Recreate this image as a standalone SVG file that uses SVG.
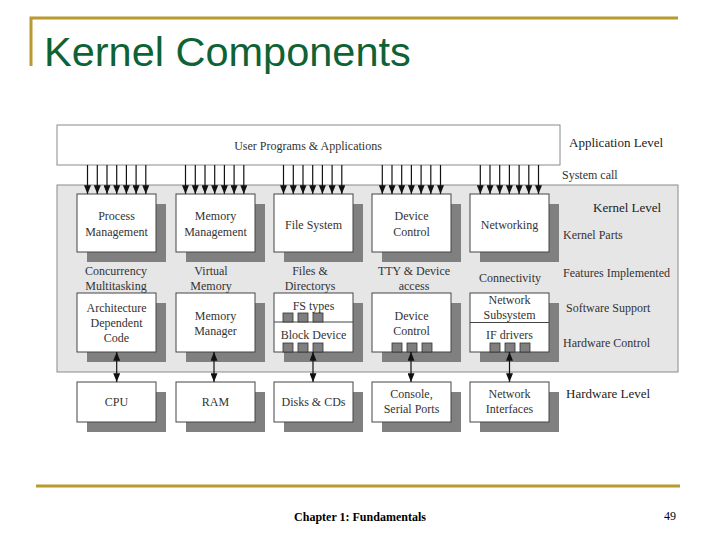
<svg xmlns="http://www.w3.org/2000/svg" width="720" height="540" viewBox="0 0 720 540">
<style>
.gold{stroke:#b89a30;stroke-width:3;fill:none}
.title{font-family:"Liberation Sans",Arial,sans-serif;font-size:41.5px;fill:#0f6236}
.t{font-family:"Liberation Serif","Times New Roman",serif;font-size:12px;fill:#333;text-anchor:middle}
.l{font-family:"Liberation Serif","Times New Roman",serif;font-size:12px;fill:#333}
.l13{font-family:"Liberation Serif","Times New Roman",serif;font-size:13px;fill:#222}
.box{fill:#fff;stroke:#444;stroke-width:1}
.sh{fill:#808080}
.sq{fill:#7f7f7f;stroke:#333;stroke-width:0.8}
.conn line{stroke:#111;stroke-width:1.2}
.foot{font-family:"Liberation Serif","Times New Roman",serif;font-size:12px;fill:#000}
</style>
<defs>
<marker id="ah" viewBox="0 0 10 8" refX="10" refY="4" markerWidth="9" markerHeight="7" markerUnits="userSpaceOnUse" orient="auto">
<path d="M0,0 L10,4 L0,8 z" fill="#111"/>
</marker>
<marker id="as" viewBox="0 0 10 8" refX="0" refY="4" markerWidth="9" markerHeight="7" markerUnits="userSpaceOnUse" orient="auto">
<path d="M10,0 L0,4 L10,8 z" fill="#111"/>
</marker>
</defs>
<rect width="720" height="540" fill="#fff"/>
<g id="title">
<path class="gold" d="M31,66 V18 H678"/>
<text class="title" x="44" y="66">Kernel Components</text>
</g>
<g id="kernel-bg"><rect x="57" y="185" width="621" height="187" fill="#e6e6e6" stroke="#8a8a8a"/></g>
<g id="user-programs">
<rect x="57" y="125" width="503" height="40" fill="#fff" stroke="#8a8a8a"/>
<text class="t" x="308" y="150">User Programs &amp; Applications</text>
</g>
<g id="labels">
<text class="l13" x="569" y="147">Application Level</text>
<text class="l" x="562" y="179">System call</text>
<text class="l13" x="593" y="212">Kernel Level</text>
<text class="l" x="563" y="239">Kernel Parts</text>
<text class="l" x="563" y="277">Features Implemented</text>
<text class="l" x="566" y="312">Software Support</text>
<text class="l" x="563" y="347">Hardware Control</text>
<text class="l13" x="566" y="398">Hardware Level</text>
<text class="t" x="116" y="275">Concurrency</text><text class="t" x="116" y="290">Multitasking</text>
<text class="t" x="211" y="275">Virtual</text><text class="t" x="211" y="290">Memory</text>
<text class="t" x="310" y="275">Files &amp;</text><text class="t" x="310" y="290">Directorys</text>
<text class="t" x="414" y="275">TTY &amp; Device</text><text class="t" x="414" y="290">access</text>
<text class="t" x="510" y="282">Connectivity</text>
</g>
<g id="process-mgmt"><rect class="sh" x="87" y="204" width="79" height="58"/><rect class="box" x="77" y="194" width="79" height="58"/>
<text class="t" x="116.5" y="220">Process</text><text class="t" x="116.5" y="236">Management</text></g>
<g id="memory-mgmt"><rect class="sh" x="186" y="204" width="79" height="58"/><rect class="box" x="176" y="194" width="79" height="58"/>
<text class="t" x="215.5" y="220">Memory</text><text class="t" x="215.5" y="236">Management</text></g>
<g id="file-system"><rect class="sh" x="284" y="204" width="79" height="58"/><rect class="box" x="274" y="194" width="79" height="58"/>
<text class="t" x="313.5" y="229">File System</text></g>
<g id="device-control"><rect class="sh" x="382" y="204" width="79" height="58"/><rect class="box" x="372" y="194" width="79" height="58"/>
<text class="t" x="411.5" y="220">Device</text><text class="t" x="411.5" y="236">Control</text></g>
<g id="networking"><rect class="sh" x="480" y="204" width="79" height="58"/><rect class="box" x="470" y="194" width="79" height="58"/>
<text class="t" x="509.5" y="229">Networking</text></g>
<g id="arch-code"><rect class="sh" x="87" y="303" width="79" height="59"/><rect class="box" x="77" y="293" width="79" height="59"/>
<text class="t" x="116.5" y="312">Architecture</text><text class="t" x="116.5" y="327">Dependent</text><text class="t" x="116.5" y="342">Code</text></g>
<g id="memory-manager"><rect class="sh" x="186" y="303" width="79" height="59"/><rect class="box" x="176" y="293" width="79" height="59"/>
<text class="t" x="215.5" y="320">Memory</text><text class="t" x="215.5" y="335">Manager</text></g>
<g id="fs-types"><rect class="sh" x="284" y="303" width="79" height="59"/><rect class="box" x="274" y="293" width="79" height="59"/>
<line x1="274" y1="322" x2="353" y2="322" stroke="#444"/>
<text class="t" x="313.5" y="310">FS types</text><text class="t" x="313.5" y="339">Block Device</text>
<rect class="sq" x="283" y="313" width="10" height="9"/><rect class="sq" x="298" y="313" width="10" height="9"/><rect class="sq" x="313" y="313" width="10" height="9"/>
<rect class="sq" x="283" y="343" width="10" height="9"/><rect class="sq" x="298" y="343" width="10" height="9"/><rect class="sq" x="313" y="343" width="10" height="9"/></g>
<g id="device-control-2"><rect class="sh" x="382" y="303" width="79" height="59"/><rect class="box" x="372" y="293" width="79" height="59"/>
<text class="t" x="411.5" y="320">Device</text><text class="t" x="411.5" y="335">Control</text>
<rect class="sq" x="392" y="343" width="10" height="9"/><rect class="sq" x="407" y="343" width="10" height="9"/><rect class="sq" x="422" y="343" width="10" height="9"/></g>
<g id="network-subsystem"><rect class="sh" x="480" y="303" width="79" height="59"/><rect class="box" x="470" y="293" width="79" height="59"/>
<line x1="470" y1="322.5" x2="549" y2="322.5" stroke="#444"/>
<text class="t" x="509.5" y="304">Network</text><text class="t" x="509.5" y="319">Subsystem</text><text class="t" x="509.5" y="339">IF drivers</text>
<rect class="sq" x="490" y="343" width="10" height="9"/><rect class="sq" x="505" y="343" width="10" height="9"/><rect class="sq" x="520" y="343" width="10" height="9"/></g>
<g id="cpu"><rect class="sh" x="87" y="392" width="79" height="40"/><rect class="box" x="77" y="382" width="79" height="40"/>
<text class="t" x="116.5" y="406">CPU</text></g>
<g id="ram"><rect class="sh" x="186" y="392" width="79" height="40"/><rect class="box" x="176" y="382" width="79" height="40"/>
<text class="t" x="215.5" y="406">RAM</text></g>
<g id="disks"><rect class="sh" x="284" y="392" width="79" height="40"/><rect class="box" x="274" y="382" width="79" height="40"/>
<text class="t" x="313.5" y="406">Disks &amp; CDs</text></g>
<g id="console"><rect class="sh" x="382" y="392" width="79" height="40"/><rect class="box" x="372" y="382" width="79" height="40"/>
<text class="t" x="411.5" y="398">Console,</text><text class="t" x="411.5" y="413">Serial Ports</text></g>
<g id="net-interfaces"><rect class="sh" x="480" y="392" width="79" height="40"/><rect class="box" x="470" y="382" width="79" height="40"/>
<text class="t" x="509.5" y="398">Network</text><text class="t" x="509.5" y="413">Interfaces</text></g>
<g id="connectors" class="conn">
<line x1="87.5" y1="165" x2="87.5" y2="194" marker-end="url(#ah)"/><line x1="97.3" y1="165" x2="97.3" y2="194" marker-end="url(#ah)"/><line x1="107" y1="165" x2="107" y2="194" marker-end="url(#ah)"/><line x1="116.7" y1="165" x2="116.7" y2="194" marker-end="url(#ah)"/><line x1="126.4" y1="165" x2="126.4" y2="194" marker-end="url(#ah)"/><line x1="136.1" y1="165" x2="136.1" y2="194" marker-end="url(#ah)"/><line x1="145.8" y1="165" x2="145.8" y2="194" marker-end="url(#ah)"/>
<line x1="185.5" y1="165" x2="185.5" y2="194" marker-end="url(#ah)"/><line x1="195.3" y1="165" x2="195.3" y2="194" marker-end="url(#ah)"/><line x1="205" y1="165" x2="205" y2="194" marker-end="url(#ah)"/><line x1="214.7" y1="165" x2="214.7" y2="194" marker-end="url(#ah)"/><line x1="224.4" y1="165" x2="224.4" y2="194" marker-end="url(#ah)"/><line x1="234.1" y1="165" x2="234.1" y2="194" marker-end="url(#ah)"/><line x1="243.8" y1="165" x2="243.8" y2="194" marker-end="url(#ah)"/>
<line x1="283.5" y1="165" x2="283.5" y2="194" marker-end="url(#ah)"/><line x1="293.3" y1="165" x2="293.3" y2="194" marker-end="url(#ah)"/><line x1="303" y1="165" x2="303" y2="194" marker-end="url(#ah)"/><line x1="312.7" y1="165" x2="312.7" y2="194" marker-end="url(#ah)"/><line x1="322.4" y1="165" x2="322.4" y2="194" marker-end="url(#ah)"/><line x1="332.1" y1="165" x2="332.1" y2="194" marker-end="url(#ah)"/><line x1="341.8" y1="165" x2="341.8" y2="194" marker-end="url(#ah)"/>
<line x1="382.3" y1="165" x2="382.3" y2="194" marker-end="url(#ah)"/><line x1="392" y1="165" x2="392" y2="194" marker-end="url(#ah)"/><line x1="401.7" y1="165" x2="401.7" y2="194" marker-end="url(#ah)"/><line x1="411.4" y1="165" x2="411.4" y2="194" marker-end="url(#ah)"/><line x1="421.1" y1="165" x2="421.1" y2="194" marker-end="url(#ah)"/><line x1="430.8" y1="165" x2="430.8" y2="194" marker-end="url(#ah)"/><line x1="440.5" y1="165" x2="440.5" y2="194" marker-end="url(#ah)"/>
<line x1="480.3" y1="165" x2="480.3" y2="194" marker-end="url(#ah)"/><line x1="490" y1="165" x2="490" y2="194" marker-end="url(#ah)"/><line x1="499.7" y1="165" x2="499.7" y2="194" marker-end="url(#ah)"/><line x1="509.4" y1="165" x2="509.4" y2="194" marker-end="url(#ah)"/><line x1="519.1" y1="165" x2="519.1" y2="194" marker-end="url(#ah)"/><line x1="528.8" y1="165" x2="528.8" y2="194" marker-end="url(#ah)"/><line x1="538.5" y1="165" x2="538.5" y2="194" marker-end="url(#ah)"/>
<line x1="116.7" y1="352" x2="116.7" y2="382" marker-start="url(#as)" marker-end="url(#ah)"/>
<line x1="214" y1="352" x2="214" y2="382" marker-start="url(#as)" marker-end="url(#ah)"/>
<line x1="313" y1="352" x2="313" y2="382" marker-start="url(#as)" marker-end="url(#ah)"/>
<line x1="411" y1="352" x2="411" y2="382" marker-start="url(#as)" marker-end="url(#ah)"/>
<line x1="509.5" y1="352" x2="509.5" y2="382" marker-start="url(#as)" marker-end="url(#ah)"/>
</g>
<g id="footer">
<line class="gold" x1="36" y1="486" x2="680" y2="486"/>
<text class="foot" x="360" y="521" text-anchor="middle" style="font-weight:bold">Chapter 1: Fundamentals</text>
<text class="foot" x="670" y="520" text-anchor="middle">49</text>
</g>
</svg>
